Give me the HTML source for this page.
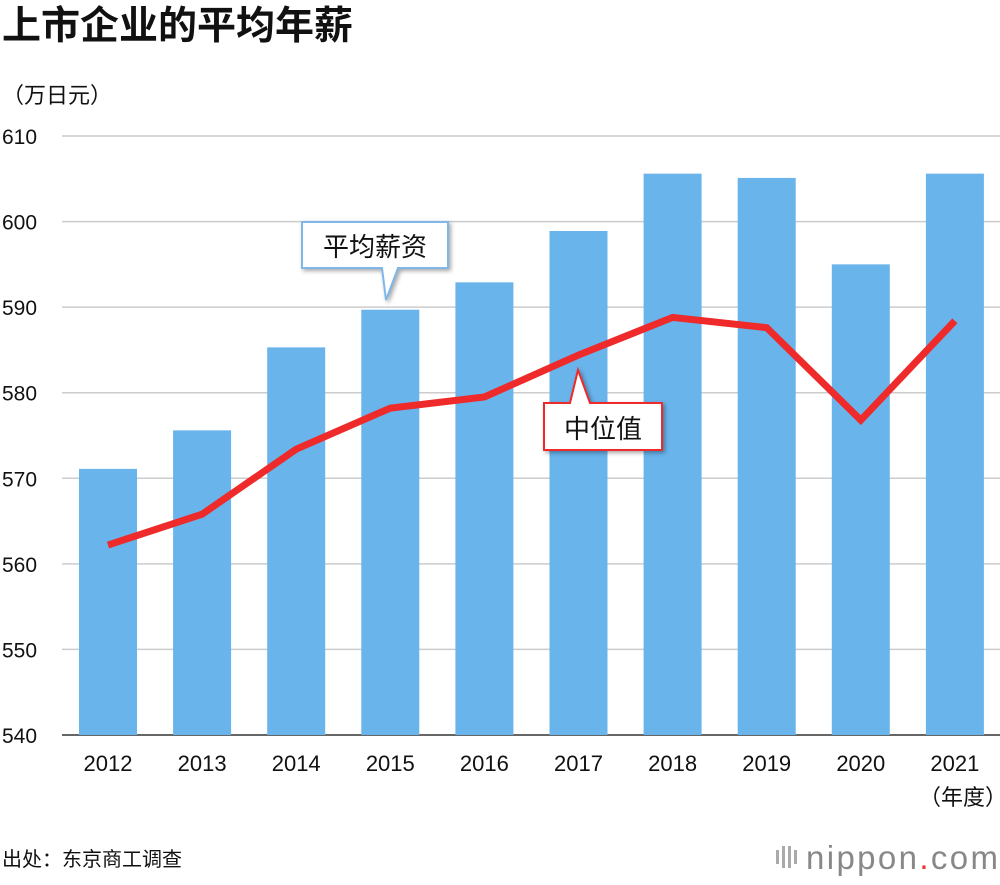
<!DOCTYPE html>
<html><head><meta charset="utf-8"><style>
body{margin:0;background:#fff;width:1000px;height:880px;overflow:hidden;font-family:"Liberation Sans","Noto Sans CJK SC",sans-serif;}
svg text{font-family:"Liberation Sans","Noto Sans CJK SC",sans-serif;}
</style></head><body>
<svg id="c" width="1000" height="880">
<text x="2" y="39" font-size="39" font-weight="bold" fill="#111">上市企业的平均年薪</text>
<text x="2" y="103" font-size="22" fill="#111">（万日元）</text>
<g id="grid"></g><g id="bars"></g><g id="line"></g><g id="labels"></g>
<g>
<path d="M302,222 H448 V268 H398 L386,300 L382,268 H302 Z" fill="#fff" stroke="#7fb8e8" stroke-width="2" filter="drop-shadow(2px 2px 2px rgba(0,0,0,0.35))"/>
<text x="375" y="256" font-size="26" text-anchor="middle" fill="#111">平均薪资</text></g>
<g>
<path d="M544,403 H570 L578,370 L590,403 H662 V450 H544 Z" fill="#fff" stroke="#ee2a2a" stroke-width="2" filter="drop-shadow(2px 2px 2px rgba(0,0,0,0.35))"/>
<text x="603" y="438" font-size="26" text-anchor="middle" fill="#111">中位值</text></g>
<text x="963" y="805" font-size="22" text-anchor="middle" fill="#111">（年度）</text>
<text x="2" y="866" font-size="20" fill="#111">出处：东京商工调查</text>
<g>
<rect x="776" y="850" width="3" height="14" fill="#aaa"/><rect x="782" y="846" width="3" height="22" fill="#aaa"/><rect x="788" y="846" width="3" height="22" fill="#aaa"/><rect x="794" y="850" width="3" height="14" fill="#aaa"/>
<text x="806" y="869" font-size="33" fill="#888" textLength="192">nippon<tspan fill="#e33">.</tspan>com</text></g>
</svg>
<script>
const years=["2012","2013","2014","2015","2016","2017","2018","2019","2020","2021"];
const meanSalary=[571.1,575.6,585.3,589.7,592.9,598.9,605.6,605.1,595.0,605.6];
const medianSalary=[562.2,565.8,573.4,578.2,579.5,584.4,588.8,587.6,576.8,588.4];
const yTicks=[540,550,560,570,580,590,600,610];
const NS="http://www.w3.org/2000/svg";
const y=v=>735-(v-540)*(735-136)/70;
const x=i=>108+i*94.1;
function mk(t,a,p){const e=document.createElementNS(NS,t);for(const k in a)e.setAttribute(k,a[k]);document.getElementById(p).appendChild(e);return e;}
yTicks.forEach(t=>{
 const l=mk('line',{x1:62,x2:1000,y1:y(t),y2:y(t),stroke:t===540?'#333':'#ccc','stroke-width':1.5},'grid');
 
 
 const tx=mk('text',{x:2,y:y(t)+8,'font-size':21,fill:'#111'},'labels');tx.textContent=t;
 
 
});
years.forEach((yr,i)=>{
 const b=mk('rect',{x:x(i)-29,y:y(meanSalary[i]),width:58,height:735-y(meanSalary[i]),fill:'#6ab4ec'},'bars');
 
 
 const tx=mk('text',{x:x(i),y:771,'font-size':22,'text-anchor':'middle',fill:'#111'},'labels');tx.textContent=yr;
 
 
});
const p=mk('polyline',{points:medianSalary.map((v,i)=>x(i)+','+y(v)).join(' '),fill:'none',stroke:'#ee2a2a','stroke-width':7,'stroke-linejoin':'miter'},'line');


</script>
</body></html>
